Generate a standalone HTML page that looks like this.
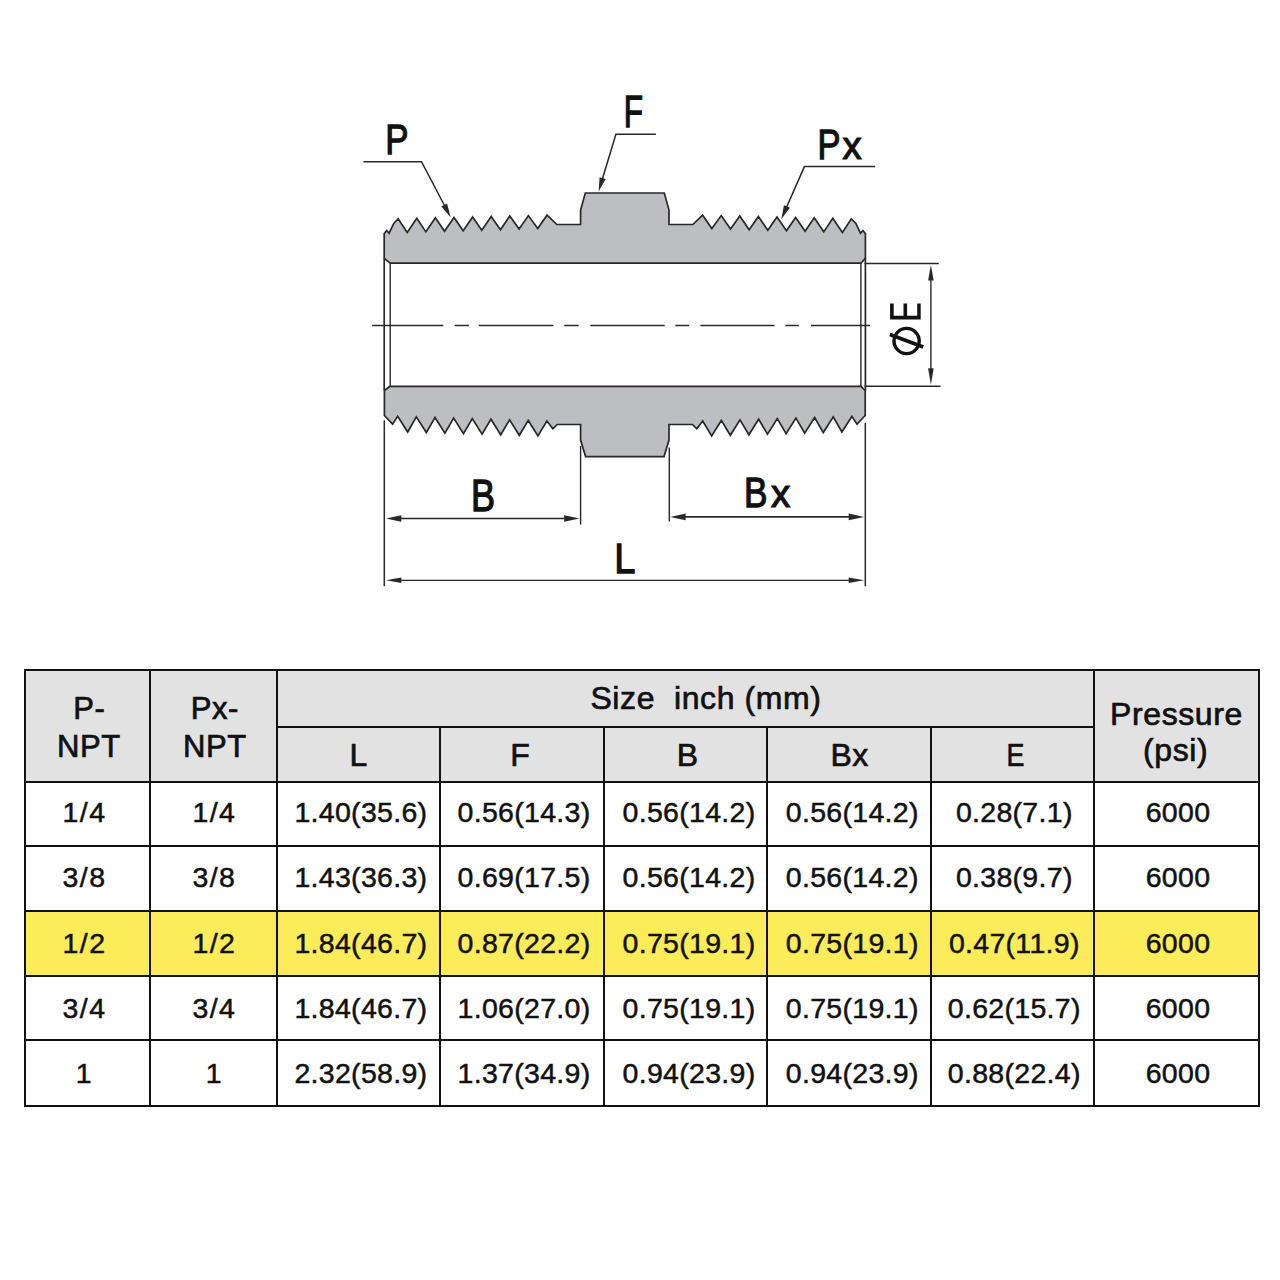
<!DOCTYPE html>
<html><head><meta charset="utf-8">
<style>
html,body{margin:0;padding:0;background:#fff;}
body{width:1280px;height:1280px;position:relative;overflow:hidden;}
svg{position:absolute;left:0;top:0;}
text{font-family:"Liberation Sans",sans-serif;fill:#111;}
text.h,text.b{text-anchor:middle;stroke:#111;stroke-width:0.5px;}
text.h{letter-spacing:0.6px;stroke-width:0.7px;}
text.b{letter-spacing:0.3px;}
text.f{letter-spacing:1.4px;}
</style></head><body>
<svg width="1280" height="1280" viewBox="0 0 1280 1280">
<polygon points="390.20,263.20 384.20,258.30 384.20,233.60 386.70,230.50 389.10,233.20 393.75,223.40 398.20,218.75 407.20,232.40 416.80,218.30 425.85,231.85 435.40,217.85 444.50,231.30 454.00,217.40 463.15,230.75 472.60,216.95 481.80,230.20 491.20,216.50 500.45,229.65 509.80,216.05 519.10,229.10 528.40,215.60 537.75,228.55 547.00,215.15 556.80,224.50 580.60,224.50 580.60,210.00 585.30,193.00 664.30,193.00 669.00,210.00 669.00,224.50 692.80,224.50 702.60,215.15 711.85,228.55 721.20,215.60 730.50,229.10 739.80,216.05 749.15,229.65 758.40,216.50 767.80,230.20 777.00,216.95 786.45,230.75 795.60,217.40 805.10,231.30 814.20,217.85 823.75,231.85 832.80,218.30 842.40,232.40 851.40,218.75 855.85,223.40 860.50,233.20 862.90,230.50 865.40,233.60 865.40,258.30 860.90,263.20" fill="#bdbec2" stroke="#29272a" stroke-width="1.7" stroke-linejoin="miter"/>
<polygon points="390.20,386.30 384.40,390.50 384.40,415.50 392.60,424.10 397.70,416.30 407.70,432.00 416.35,416.89 426.30,432.55 435.00,417.48 444.90,433.10 453.65,418.07 463.50,433.65 472.30,418.66 482.10,434.20 490.95,419.25 500.70,434.75 509.60,419.84 519.30,435.30 528.25,420.43 537.90,435.85 546.90,421.02 552.80,428.75 557.20,424.50 580.60,424.50 580.60,440.00 585.60,456.60 664.00,456.60 669.00,440.00 669.00,424.50 692.40,424.50 696.80,428.75 702.70,421.02 711.70,435.85 721.35,420.43 730.30,435.30 740.00,419.84 748.90,434.75 758.65,419.25 767.50,434.20 777.30,418.66 786.10,433.65 795.95,418.07 804.70,433.10 814.60,417.48 823.30,432.55 833.25,416.89 841.90,432.00 851.90,416.30 857.00,424.10 865.20,415.50 865.20,390.50 860.90,386.30" fill="#bdbec2" stroke="#29272a" stroke-width="1.7" stroke-linejoin="miter"/>
<line x1="390.20" y1="263.2" x2="390.20" y2="386.3" stroke="#29272a" stroke-width="1.4"/>
<line x1="860.90" y1="263.2" x2="860.90" y2="386.3" stroke="#29272a" stroke-width="1.4"/>
<line x1="384.20" y1="258.3" x2="384.20" y2="390.5" stroke="#29272a" stroke-width="1.7"/>
<line x1="865.40" y1="258.3" x2="865.40" y2="390.5" stroke="#29272a" stroke-width="1.7"/>
<line x1="372.2" y1="325.5" x2="443.3" y2="325.5" stroke="#29272a" stroke-width="1.5"/>
<line x1="454.7" y1="325.5" x2="468.9" y2="325.5" stroke="#29272a" stroke-width="1.5"/>
<line x1="479" y1="325.5" x2="553.4" y2="325.5" stroke="#29272a" stroke-width="1.5"/>
<line x1="564.3" y1="325.5" x2="578.6" y2="325.5" stroke="#29272a" stroke-width="1.5"/>
<line x1="590.3" y1="325.5" x2="664.7" y2="325.5" stroke="#29272a" stroke-width="1.5"/>
<line x1="675.3" y1="325.5" x2="689" y2="325.5" stroke="#29272a" stroke-width="1.5"/>
<line x1="700.4" y1="325.5" x2="774.4" y2="325.5" stroke="#29272a" stroke-width="1.5"/>
<line x1="785.4" y1="325.5" x2="798.8" y2="325.5" stroke="#29272a" stroke-width="1.5"/>
<line x1="811" y1="325.5" x2="870" y2="325.5" stroke="#29272a" stroke-width="1.5"/>
<polyline points="363.50,161.70 421.50,161.70 445.13,206.77" fill="none" stroke="#29272a" stroke-width="1.5"/>
<polygon points="450.70,217.40 441.37,206.49 447.03,203.51" fill="#29272a"/>
<polyline points="655.90,134.20 615.90,134.20 613.60,142.00 602.08,180.02" fill="none" stroke="#29272a" stroke-width="1.5"/>
<polygon points="598.60,191.50 599.60,177.17 605.72,179.03" fill="#29272a"/>
<polyline points="875.00,166.60 804.40,166.60 786.12,208.31" fill="none" stroke="#29272a" stroke-width="1.5"/>
<polygon points="781.30,219.30 783.99,205.19 789.85,207.76" fill="#29272a"/>
<line x1="384.3" y1="420.3" x2="384.3" y2="586.2" stroke="#29272a" stroke-width="1.5"/>
<line x1="865.30" y1="422.8" x2="865.30" y2="586.2" stroke="#29272a" stroke-width="1.5"/>
<line x1="580.6" y1="446" x2="580.6" y2="524.5" stroke="#29272a" stroke-width="1.4"/>
<line x1="669.3" y1="447.5" x2="669.3" y2="521.5" stroke="#29272a" stroke-width="1.4"/>
<line x1="400.3" y1="518.5" x2="565.2" y2="518.5" stroke="#29272a" stroke-width="1.6"/>
<polygon points="386.00,518.50 401.30,515.20 401.30,521.80" fill="#29272a"/>
<polygon points="579.50,518.50 564.20,521.80 564.20,515.20" fill="#29272a"/>
<line x1="684.5999999999999" y1="516.9" x2="849.7" y2="516.9" stroke="#29272a" stroke-width="1.6"/>
<polygon points="670.30,516.90 685.60,513.60 685.60,520.20" fill="#29272a"/>
<polygon points="864.00,516.90 848.70,520.20 848.70,513.60" fill="#29272a"/>
<line x1="400.3" y1="580.3" x2="849.7" y2="580.3" stroke="#29272a" stroke-width="1.3"/>
<polygon points="386.00,580.30 401.30,577.60 401.30,583.00" fill="#29272a"/>
<polygon points="864.00,580.30 848.70,583.00 848.70,577.60" fill="#29272a"/>
<line x1="864.5" y1="263.5" x2="938.8" y2="263.5" stroke="#29272a" stroke-width="1.4"/>
<line x1="864.5" y1="386.2" x2="940.5" y2="386.2" stroke="#29272a" stroke-width="1.4"/>
<line x1="930.9" y1="278" x2="930.9" y2="371" stroke="#29272a" stroke-width="1.4"/>
<polygon points="930.90,265.00 933.70,280.50 928.10,280.50" fill="#29272a"/>
<polygon points="930.90,384.80 928.10,368.30 933.70,368.30" fill="#29272a"/>
<circle cx="906.6" cy="341.0" r="12.6" fill="none" stroke="#111" stroke-width="3.4"/>
<line x1="889.9" y1="334.4" x2="923.2" y2="347.0" stroke="#111" stroke-width="3.7"/>
<path d="M890.1,303.5 H893.7 V315.8 H903.5 V303.5 H907.1 V315.8 H917.2 V303.5 H920.7 V319.6 H890.1 Z" fill="#111"/>
<text x="0" y="0" font-family="Liberation Sans, sans-serif" font-size="100" fill="#111" stroke="#111" stroke-width="3" transform="translate(385.26,154.17) scale(0.3482,0.4296)">P</text>
<text x="0" y="0" font-family="Liberation Sans, sans-serif" font-size="100" fill="#111" stroke="#111" stroke-width="3" transform="translate(623.79,127.36) scale(0.3154,0.4352)">F</text>
<text x="0" y="0" font-family="Liberation Sans, sans-serif" font-size="100" fill="#111" stroke="#111" stroke-width="3" transform="translate(817.39,159.27) scale(0.3446,0.4324)">P</text>
<text x="0" y="0" font-family="Liberation Sans, sans-serif" font-size="100" fill="#111" stroke="#111" stroke-width="3" transform="translate(842.48,159.3) scale(0.3827,0.3964)">x</text>
<text x="0" y="0" font-family="Liberation Sans, sans-serif" font-size="100" fill="#111" stroke="#111" stroke-width="3" transform="translate(470.98,510.82) scale(0.3607,0.4345)">B</text>
<text x="0" y="0" font-family="Liberation Sans, sans-serif" font-size="100" fill="#111" stroke="#111" stroke-width="3" transform="translate(743.94,507.28) scale(0.3518,0.4232)">B</text>
<text x="0" y="0" font-family="Liberation Sans, sans-serif" font-size="100" fill="#111" stroke="#111" stroke-width="3" transform="translate(771.08,507.3) scale(0.3846,0.3964)">x</text>
<text x="0" y="0" font-family="Liberation Sans, sans-serif" font-size="100" fill="#111" stroke="#111" stroke-width="3" transform="translate(614.33,573.17) scale(0.3809,0.4324)">L</text>
<rect x="24" y="669" width="1236" height="114" fill="#e2e2e2"/>
<rect x="24" y="910" width="1236" height="67" fill="#fcec5a"/>
<rect x="24" y="669" width="1236" height="2" fill="#111"/>
<rect x="276" y="726" width="819" height="2" fill="#111"/>
<rect x="24" y="781" width="1236" height="2" fill="#111"/>
<rect x="24" y="845" width="1236" height="2" fill="#111"/>
<rect x="24" y="910" width="1236" height="2" fill="#111"/>
<rect x="24" y="975" width="1236" height="2" fill="#111"/>
<rect x="24" y="1039" width="1236" height="2" fill="#111"/>
<rect x="24" y="1105" width="1236" height="2" fill="#111"/>
<rect x="24" y="669" width="2" height="438" fill="#111"/>
<rect x="149" y="669" width="2" height="438" fill="#111"/>
<rect x="276" y="669" width="2" height="438" fill="#111"/>
<rect x="439" y="726" width="2" height="381" fill="#111"/>
<rect x="603" y="726" width="2" height="381" fill="#111"/>
<rect x="766" y="726" width="2" height="381" fill="#111"/>
<rect x="930" y="726" width="2" height="381" fill="#111"/>
<rect x="1093" y="669" width="2" height="438" fill="#111"/>
<rect x="1258" y="669" width="2" height="438" fill="#111"/>
<text x="89.3" y="719.4" font-size="31" class="h">P-</text>
<text x="88.8" y="756.6" font-size="31" class="h">NPT</text>
<text x="214.8" y="719.4" font-size="31" class="h">Px-</text>
<text x="214.8" y="756.6" font-size="31" class="h">NPT</text>
<text x="706.0" y="708.7" font-size="32" class="h">Size&#160; inch (mm)</text>
<text x="358.6" y="766.0" font-size="32" class="h">L</text>
<text x="520.3" y="766.0" font-size="32" class="h">F</text>
<text x="687.8" y="766.0" font-size="32" class="h">B</text>
<text x="849.7" y="766.0" font-size="32" class="h">Bx</text>
<text x="0" y="0" font-size="32" class="h" transform="translate(1015.8,766) scale(0.84,1)">E</text>
<text x="1176.5" y="724.8" font-size="32" class="h">Pressure</text>
<text x="1175.7" y="760.5" font-size="32" class="h">(psi)</text>
<text x="84.5" y="822.2" font-size="28.5" class="b f">1/4</text>
<text x="214.4" y="822.2" font-size="28.5" class="b f">1/4</text>
<text x="360.9" y="822.2" font-size="28.5" class="b">1.40(35.6)</text>
<text x="524.0" y="822.2" font-size="28.5" class="b">0.56(14.3)</text>
<text x="689.0" y="822.2" font-size="28.5" class="b">0.56(14.2)</text>
<text x="852.3" y="822.2" font-size="28.5" class="b">0.56(14.2)</text>
<text x="1014.3" y="822.2" font-size="28.5" class="b">0.28(7.1)</text>
<text x="1178.0" y="822.2" font-size="28.5" class="b">6000</text>
<text x="84.5" y="887.4" font-size="28.5" class="b f">3/8</text>
<text x="214.4" y="887.4" font-size="28.5" class="b f">3/8</text>
<text x="360.9" y="887.4" font-size="28.5" class="b">1.43(36.3)</text>
<text x="524.0" y="887.4" font-size="28.5" class="b">0.69(17.5)</text>
<text x="689.0" y="887.4" font-size="28.5" class="b">0.56(14.2)</text>
<text x="852.3" y="887.4" font-size="28.5" class="b">0.56(14.2)</text>
<text x="1014.3" y="887.4" font-size="28.5" class="b">0.38(9.7)</text>
<text x="1178.0" y="887.4" font-size="28.5" class="b">6000</text>
<text x="84.5" y="952.5" font-size="28.5" class="b f">1/2</text>
<text x="214.4" y="952.5" font-size="28.5" class="b f">1/2</text>
<text x="360.9" y="952.5" font-size="28.5" class="b">1.84(46.7)</text>
<text x="524.0" y="952.5" font-size="28.5" class="b">0.87(22.2)</text>
<text x="689.0" y="952.5" font-size="28.5" class="b">0.75(19.1)</text>
<text x="852.3" y="952.5" font-size="28.5" class="b">0.75(19.1)</text>
<text x="1014.3" y="952.5" font-size="28.5" class="b">0.47(11.9)</text>
<text x="1178.0" y="952.5" font-size="28.5" class="b">6000</text>
<text x="84.5" y="1017.9" font-size="28.5" class="b f">3/4</text>
<text x="214.4" y="1017.9" font-size="28.5" class="b f">3/4</text>
<text x="360.9" y="1017.9" font-size="28.5" class="b">1.84(46.7)</text>
<text x="524.0" y="1017.9" font-size="28.5" class="b">1.06(27.0)</text>
<text x="689.0" y="1017.9" font-size="28.5" class="b">0.75(19.1)</text>
<text x="852.3" y="1017.9" font-size="28.5" class="b">0.75(19.1)</text>
<text x="1014.3" y="1017.9" font-size="28.5" class="b">0.62(15.7)</text>
<text x="1178.0" y="1017.9" font-size="28.5" class="b">6000</text>
<text x="84.5" y="1083.2" font-size="28.5" class="b f">1</text>
<text x="214.4" y="1083.2" font-size="28.5" class="b f">1</text>
<text x="360.9" y="1083.2" font-size="28.5" class="b">2.32(58.9)</text>
<text x="524.0" y="1083.2" font-size="28.5" class="b">1.37(34.9)</text>
<text x="689.0" y="1083.2" font-size="28.5" class="b">0.94(23.9)</text>
<text x="852.3" y="1083.2" font-size="28.5" class="b">0.94(23.9)</text>
<text x="1014.3" y="1083.2" font-size="28.5" class="b">0.88(22.4)</text>
<text x="1178.0" y="1083.2" font-size="28.5" class="b">6000</text>
</svg>
</body></html>
